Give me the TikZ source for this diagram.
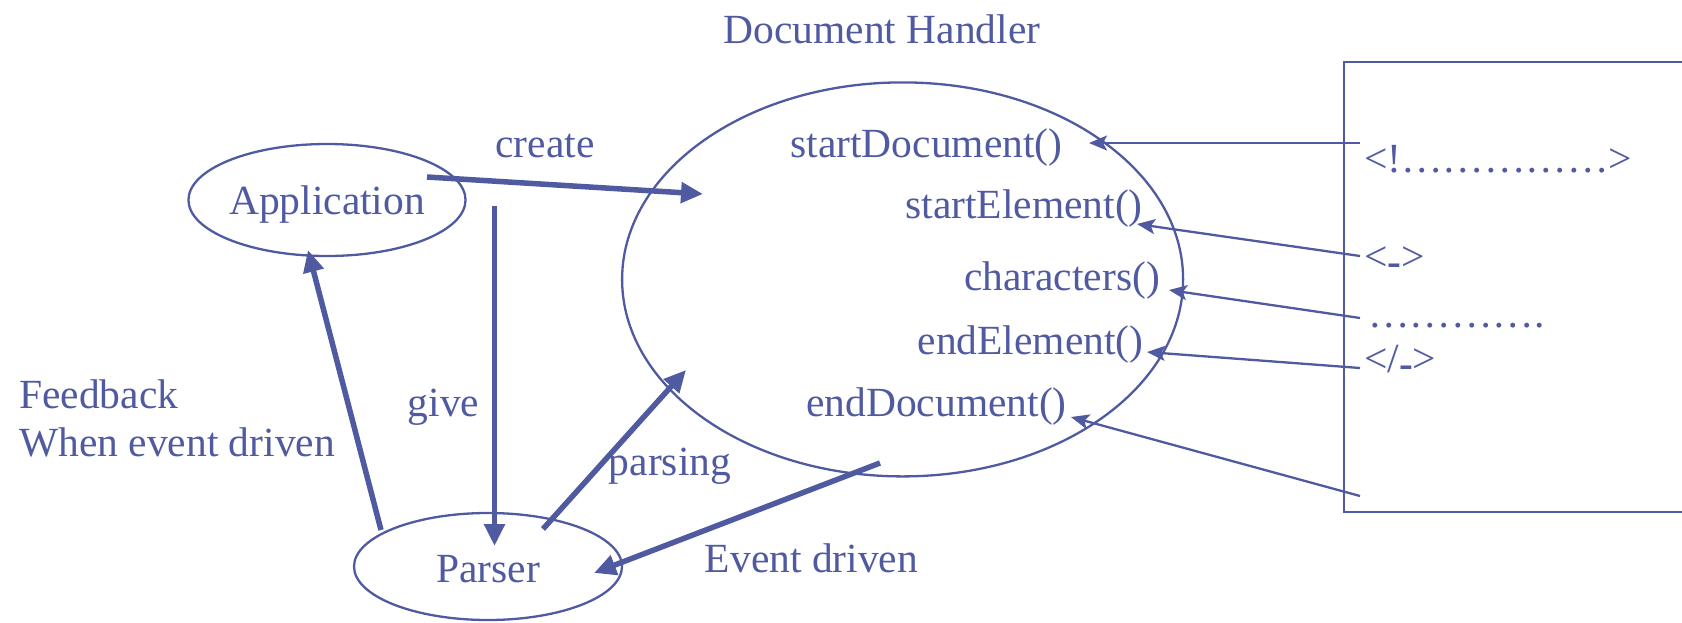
\documentclass[tikz,border=0pt]{standalone}
\usepackage{fontspec}
\setmainfont{Liberation Serif}
\usetikzlibrary{arrows.meta,shapes.geometric}
\definecolor{ink}{RGB}{80,90,160}
\tikzset{
  lbl/.style={inner sep=0pt, text=ink, font=\fontsize{41.5}{50}\selectfont},
  oval/.style={draw=ink, line width=2.3pt, ellipse, inner sep=0pt},
  flow/.style={draw=ink, line width=5.5pt, -{Triangle[length=22pt,width=20pt]}},
  feed/.style={draw=ink, line width=2.3pt, -{Stealth[length=18pt,width=15pt,inset=4pt]}},
}
\begin{document}
\begin{tikzpicture}[x=1pt,y=-1pt]
\path[use as bounding box] (0,0) rectangle (1682,622);

% ellipses
\node[oval, minimum width=272pt, minimum height=112pt, lbl, draw=ink,
      text height=38pt, text depth=9pt] (app) at (327,200) {Application};
\node[oval, minimum width=268pt, minimum height=107pt, lbl, draw=ink,
      text height=31pt, text depth=0pt] (parser) at (488,566.5) {Parser};
\node[oval, minimum width=561pt, minimum height=394pt] (dh) at (902.6,279.4) {};

% document source box (right side runs off the page)
\draw[ink, line width=2.3pt] (1690,62) -- (1344,62) -- (1344,512) -- (1690,512);

% labels
\node[lbl, anchor=base] (dhname) at (882,43) {Document Handler};
\node[lbl, anchor=base] (lcreate) at (545,157) {create};
\node[lbl, anchor=base] (lgive) at (443.5,416) {give};
\node[lbl, anchor=base] (lparsing) at (670,475) {parsing};
\node[lbl, anchor=base] (levent) at (811.5,572) {Event driven};
\node[lbl, anchor=base west] (lfeed1) at (19,408) {Feedback};
\node[lbl, anchor=base west] (lfeed2) at (19,456) {When event driven};

% handler methods
\node[lbl, anchor=base] (m1) at (926.5,157) {startDocument()};
\node[lbl, anchor=base] (m2) at (1024,218) {startElement()};
\node[lbl, anchor=base] (m3) at (1062,290) {characters()};
\node[lbl, anchor=base] (m4) at (1030.5,354) {endElement()};
\node[lbl, anchor=base] (m5) at (936.5,416) {endDocument()};

% markup in the document
\node[lbl, anchor=base west] (x1) at (1364,172) {<!……………>};
\node[lbl, anchor=base west] (x2) at (1364,270) {<{\bfseries\raisebox{-5pt}{-}}>};
\node[lbl, anchor=base west] (x3) at (1368,327) {………….};
\node[lbl, anchor=base west] (x4) at (1364,372) {</{\bfseries\raisebox{-5pt}{-}}>};

% connector end points
\coordinate (createS) at (427,177);
\coordinate (createE) at (703,194);
\coordinate (giveS) at (494.5,206);
\coordinate (giveE) at (494.5,546);
\coordinate (feedS) at (381,530);
\coordinate (feedE) at (308,250);
\coordinate (parseS) at (543,529);
\coordinate (parseE) at (686,370);
\coordinate (eventS) at (880,463);
\coordinate (eventE) at (594,573);

\draw[flow] (createS) -- (createE);
\draw[flow] (giveS) -- (giveE);
\draw[flow] (feedS) -- (feedE);
\draw[flow] (parseS) -- (parseE);
\draw[flow] (eventS) -- (eventE);

\coordinate (s1) at (1360,143);
\coordinate (s2) at (1360,256);
\coordinate (s3) at (1360,318);
\coordinate (s4) at (1360,368);
\coordinate (s5) at (1360,496);
\coordinate (t1) at (1089,143);
\coordinate (t2) at (1137,224);
\coordinate (t3) at (1169,290);
\coordinate (t4) at (1147,352);
\coordinate (t5) at (1071,417);

\draw[feed] (s1) -- (t1);
\draw[feed] (s2) -- (t2);
\draw[feed] (s3) -- (t3);
\draw[feed] (s4) -- (t4);
\draw[feed] (s5) -- (t5);
\end{tikzpicture}
\end{document}
